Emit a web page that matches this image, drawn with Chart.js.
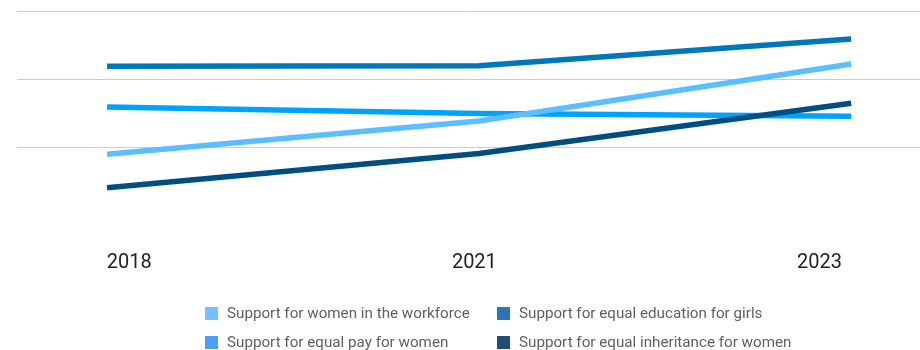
<!DOCTYPE html>
<html>
<head>
<meta charset="utf-8">
<script src="https://cdn.jsdelivr.net/npm/chart.js@4/dist/chart.umd.min.js"></script>
<style>
    body { margin: 0; background: #fff; font-family: Roboto, sans-serif; }
    #wrap { position: relative; width: 920px; height: 350px; }
    #chartBox { position: absolute; left: 0; top: 0; width: 920px; height: 328px; }
    #legend {
        position: absolute; left: 205px; top: 303px;
        display: grid; grid-template-columns: 292px auto; row-gap: 9px;
        font-size: 15.2px; color: #5f5f5f;
    }
    .item { display: flex; align-items: center; height: 20px; white-space: nowrap; }
    .box { width: 13px; height: 13px; margin-right: 9px; flex: none; }
</style>
</head>
<body>
<div id="wrap">
    <div id="chartBox"><canvas id="lineChart"></canvas></div>
    <div id="legend"></div>
</div>
<script>
// Data
const years = ['2018', '2021', '2023'];
const workforce = [18.1, 27.8, 44.5];
const equalEducation = [43.8, 44.0, 51.8];
const equalPay = [31.9, 30.0, 29.2];
const inheritance = [8.3, 18.3, 33.0];

const seriesNames = [
    'Support for women in the workforce',
    'Support for equal pay for women',
    'Support for equal education for girls',
    'Support for equal inheritance for women'
];
const seriesValues = [workforce, equalPay, equalEducation, inheritance];
const lineColors = ['#5bbfff', '#00a2ff', '#0077b6', '#004f80'];
const swatchColors = ['#74c0fc', '#4a9ff5', '#2e75b6', '#1f4e79'];

function toPoints(values) {
    return values.map((v, i) => ({ x: i, y: v }));
}

const datasets = seriesNames.map((name, i) => ({
    label: name,
    data: toPoints(seriesValues[i]),
    borderColor: lineColors[i],
    backgroundColor: swatchColors[i],
    borderWidth: 5.5,
    pointRadius: 0,
    tension: 0,
    fill: false
}));
// draw order: education and pay under the lighter lines
const drawOrder = [1, 2, 3, 0];
datasets.forEach((d, i) => { d.order = drawOrder.length - drawOrder.indexOf(i); });

const ctx = document.getElementById('lineChart').getContext('2d');
const chart = new Chart(ctx, {
    type: 'line',
    data: { datasets: datasets },
    options: {
        responsive: true,
        maintainAspectRatio: false,
        animation: false,
        layout: { padding: { left: 17, top: 11, right: 0, bottom: 18 } },
        plugins: {
            legend: { display: false },
            tooltip: { enabled: false }
        },
        scales: {
            x: {
                type: 'linear',
                display: false,
                min: -0.242,
                max: 2.185
            },
            x2: {
                type: 'linear',
                position: 'bottom',
                min: -0.325,
                max: 2.291,
                afterBuildTicks: function(axis) {
                    axis.ticks = years.map((y, i) => ({ value: i }));
                },
                ticks: {
                    padding: 35,
                    color: '#222',
                    font: { family: 'Roboto', size: 20 },
                    maxRotation: 0,
                    callback: function(value) {
                        return years[value];
                    }
                },
                grid: { display: false, drawTicks: false },
                border: { display: false }
            },
            y: {
                min: 0,
                max: 60,
                ticks: { display: false, stepSize: 20 },
                grid: {
                    drawTicks: false,
                    lineWidth: 1,
                    color: function(c) {
                        return c.tick && c.tick.value === 0 ? 'rgba(0,0,0,0)' : '#cccccc';
                    }
                },
                border: { display: false }
            }
        }
    }
});

// HTML legend, two columns
const legendEl = document.getElementById('legend');
[0, 2, 1, 3].forEach(function(i) {
    const item = document.createElement('div');
    item.className = 'item';
    const box = document.createElement('span');
    box.className = 'box';
    box.style.background = swatchColors[i];
    const txt = document.createElement('span');
    txt.textContent = seriesNames[i];
    item.appendChild(box);
    item.appendChild(txt);
    legendEl.appendChild(item);
});
</script>
</body>
</html>
